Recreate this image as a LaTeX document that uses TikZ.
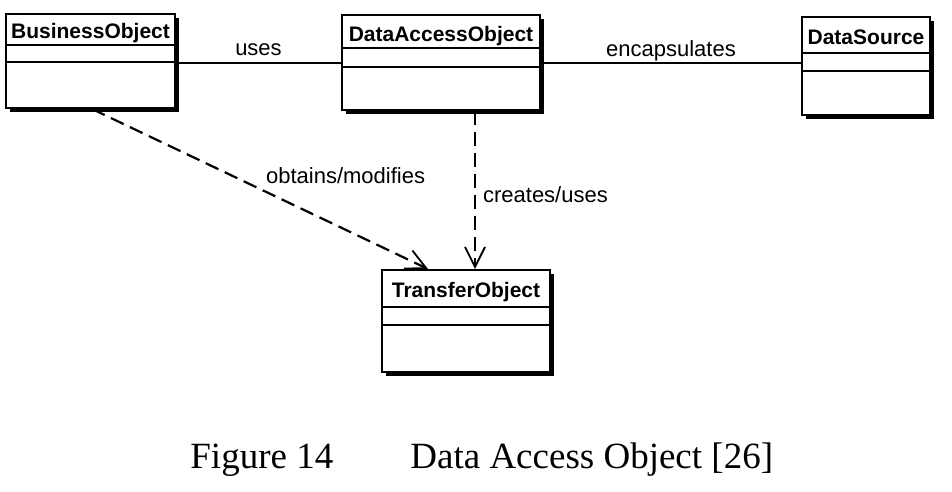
\documentclass[tikz,border=0pt]{standalone}
\usepackage{fontspec}
\setmainfont{Liberation Serif}
\newfontfamily\umlfont{Liberation Sans}
\usetikzlibrary{arrows.meta, positioning, calc, shadows}

\begin{document}
\begin{tikzpicture}[
    x=0.5pt, y=-0.5pt,
    classbox/.style={
        rectangle,
        draw=black,
        fill=white,
        line width=1pt,
        inner sep=0pt,
        drop shadow={shadow xshift=2pt, shadow yshift=-2pt, fill=black, opacity=1}
    },
    classname/.style={
        anchor=base,
        inner sep=0pt,
        font=\umlfont\bfseries\fontsize{10.5}{12}\selectfont
    },
    compartment/.style={
        draw=black,
        line width=0.9pt
    },
    assoc/.style={
        draw=black,
        line width=0.7pt
    },
    depend/.style={
        draw=black,
        line width=1.1pt,
        dash pattern=on 7pt off 3.5pt,
        -{Straight Barb[length=10pt, width=10pt, line width=0.9pt]}
    },
    linklabel/.style={
        inner sep=0pt,
        font=\umlfont\fontsize{11}{13}\selectfont
    },
    caption/.style={
        anchor=base west,
        inner sep=0pt,
        font=\fontsize{18.5}{22}\selectfont
    }
]

\useasboundingbox (0,0) rectangle (952,492);

% Class boxes
\node[classbox, minimum width=84.5pt, minimum height=47pt] (bo) at (90.5,61) {};
\node[classbox, minimum width=99pt, minimum height=47.5pt] (dao) at (441,62.5) {};
\node[classbox, minimum width=64pt, minimum height=49pt] (ds) at (866,66) {};
\node[classbox, minimum width=84pt, minimum height=51pt] (to) at (466,321) {};

% Compartments
\draw[compartment] (bo.west |- 0,45) -- (bo.east |- 0,45);
\draw[compartment] (bo.west |- 0,62) -- (bo.east |- 0,62);
\draw[compartment] (dao.west |- 0,48) -- (dao.east |- 0,48);
\draw[compartment] (dao.west |- 0,67) -- (dao.east |- 0,67);
\draw[compartment] (ds.west |- 0,53) -- (ds.east |- 0,53);
\draw[compartment] (ds.west |- 0,71) -- (ds.east |- 0,71);
\draw[compartment] (to.west |- 0,307) -- (to.east |- 0,307);
\draw[compartment] (to.west |- 0,325) -- (to.east |- 0,325);

% Class names
\node[classname] (bo-name) at (bo.north |- 0,38.5) {BusinessObject};
\node[classname] (dao-name) at (dao.north |- 0,42) {DataAccessObject};
\node[classname] (ds-name) at (ds.north |- 0,45) {DataSource};
\node[classname] (to-name) at (to.north |- 0,297) {TransferObject};

% Associations
\draw[assoc] (bo.east |- 0,63) -- node[linklabel, anchor=base, yshift=3.5pt] (uses) {uses} (dao.west |- 0,63);
\draw[assoc] (dao.east |- 0,63) -- node[linklabel, anchor=base, yshift=3pt] (encaps) {encapsulates} (ds.west |- 0,63);

% Dependencies
\draw[depend] (bo.south -| 92,0) -- node[linklabel, pos=0.55, anchor=base west, xshift=-5.9pt, yshift=7pt] (obtains) {obtains/modifies} (to.north -| 428,0);
\draw[depend] (dao.south -| 475,0) -- node[linklabel, pos=0.58, anchor=base west, xshift=3.5pt] (creates) {creates/uses} (to.north -| 475,0);

% Caption
\node[caption] (fignum) at (190,468) {Figure 14};
\node[caption] (figtitle) at (410,468) {Data Access Object [26]};

\end{tikzpicture}
\end{document}
